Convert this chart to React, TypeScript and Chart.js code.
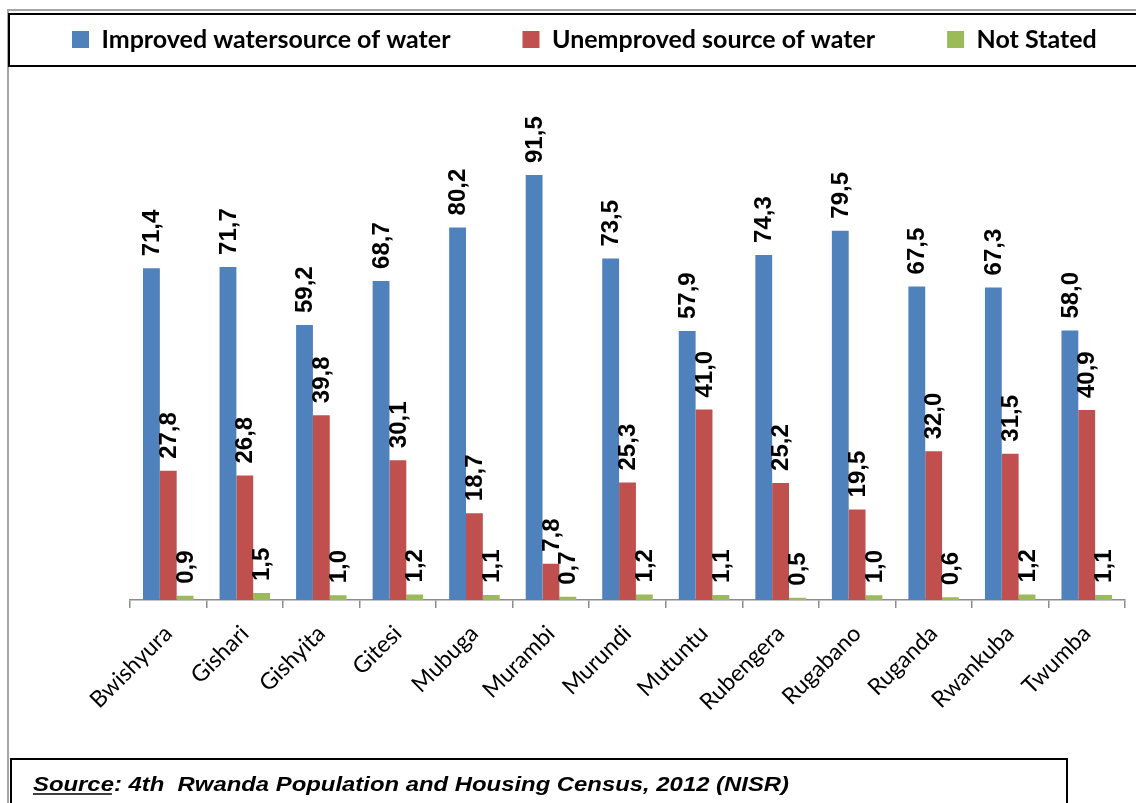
import React, { useEffect, useRef } from "react";
import { Chart, registerables } from "chart.js";

Chart.register(...registerables);

const categories = [
  "Bwishyura", "Gishari", "Gishyita", "Gitesi", "Mubuga", "Murambi", "Murundi",
  "Mutuntu", "Rubengera", "Rugabano", "Ruganda", "Rwankuba", "Twumba",
];
const improved = [71.4, 71.7, 59.2, 68.7, 80.2, 91.5, 73.5, 57.9, 74.3, 79.5, 67.5, 67.3, 58.0];
const unimproved = [27.8, 26.8, 39.8, 30.1, 18.7, 7.8, 25.3, 41.0, 25.2, 19.5, 32.0, 31.5, 40.9];
const notStated = [0.9, 1.5, 1.0, 1.2, 1.1, 0.7, 1.2, 1.1, 0.5, 1.0, 0.6, 1.2, 1.1];
const seriesNames = ["Improved watersource of water", "Unemproved source of water", "Not Stated"];
const seriesColors = ["#4F81BD", "#C0504D", "#9BBB59"];
const sourcePrefix = "Source";
const sourceRest = ": 4th  Rwanda Population and Housing Census, 2012 (NISR)";

const fmt = (v: number) => v.toFixed(1).replace(".", ",");

const LEGEND_PAD = 72;
const LEGEND_FONT = 25;
const LEGEND_BOX = 17;
const LEGEND_ITEM_TOP = 27;
const LEGEND_X0 = 72;
const LAYOUT_TOP = LEGEND_ITEM_TOP - LEGEND_PAD;
const PLOT_TOP = 135.5;

// reserve the legend band height, and keep the legend on a single row
const legendSpacer = {
  id: "legendSpacer",
  afterInit(chart: any) {
    const lg = chart.legend;
    if (!lg) return;
    const orig = lg.fit;
    lg.fit = function () {
      orig.call(this);
      this.height = PLOT_TOP - LAYOUT_TOP;
    };
  },
  beforeDraw(chart: any) {
    const lg = chart.legend;
    if (!lg) return;
    lg.left = LEGEND_X0 - LEGEND_PAD;
    lg.right = 1600;
    lg.width = lg.right - lg.left;
  },
};

const valueLabels = {
  id: "valueLabels",
  afterDatasetsDraw(chart: any) {
    const ctx = chart.ctx;
    ctx.save();
    ctx.font = "bold 24px 'Liberation Sans', Arial, sans-serif";
    ctx.fillStyle = "#000";
    ctx.textAlign = "left";
    ctx.textBaseline = "middle";
    chart.data.datasets.forEach((ds: any, i: number) => {
      const meta = chart.getDatasetMeta(i);
      meta.data.forEach((el: any, j: number) => {
        const txt = fmt(ds.data[j]);
        ctx.save();
        ctx.translate(el.x + 1, el.y - 12);
        ctx.rotate(-Math.PI / 2);
        ctx.fillText(txt, 0, 0);
        ctx.restore();
      });
    });
    ctx.restore();
  },
};

const frame = {
  id: "frame",
  afterDraw(chart: any) {
    const ctx = chart.ctx;
    ctx.save();
    ctx.strokeStyle = "#A6A6A6";
    ctx.lineWidth = 2;
    ctx.beginPath();
    ctx.moveTo(8, 803);
    ctx.lineTo(8, 10);
    ctx.lineTo(1136, 10);
    ctx.stroke();
    ctx.strokeStyle = "#000";
    ctx.lineWidth = 2;
    ctx.beginPath();
    ctx.moveTo(1136, 14);
    ctx.lineTo(9, 14);
    ctx.lineTo(9, 66);
    ctx.lineTo(1136, 66);
    ctx.stroke();
    ctx.strokeRect(11, 759, 1056, 60);
    ctx.fillStyle = "#000";
    ctx.font = "italic bold 20px 'Liberation Sans', Arial, sans-serif";
    ctx.textBaseline = "alphabetic";
    ctx.textAlign = "left";
    const full = sourcePrefix + sourceRest;
    const w = ctx.measureText(full).width;
    const sx = 756 / w;
    const pw = ctx.measureText(sourcePrefix).width;
    ctx.save();
    ctx.translate(33, 791);
    ctx.scale(sx, 1);
    ctx.fillText(full, 0, 0);
    ctx.restore();
    ctx.lineWidth = 1.5;
    ctx.beginPath();
    ctx.moveTo(33, 794);
    ctx.lineTo(33 + pw * sx - 2, 794);
    ctx.stroke();
    ctx.restore();
  },
};

export default function App() {
  const ref = useRef<HTMLCanvasElement>(null);
  useEffect(() => {
    if (!ref.current) return;
    const chart = new Chart(ref.current, {
      type: "bar",
      data: {
        labels: categories,
        datasets: [
          { label: seriesNames[0], data: improved, backgroundColor: seriesColors[0] },
          { label: seriesNames[1], data: unimproved, backgroundColor: seriesColors[1] },
          { label: seriesNames[2], data: notStated, backgroundColor: seriesColors[2] },
        ].map((d) => ({ ...d, borderWidth: 0, categoryPercentage: 0.66, barPercentage: 1.0 })),
      },
      options: {
        animation: false,
        responsive: false,
        events: [],
        layout: { padding: { left: 30, right: 11, top: LAYOUT_TOP, bottom: 0 } },
        plugins: {
          tooltip: { enabled: false },
          legend: {
            position: "top",
            align: "start",
            labels: {
              boxWidth: LEGEND_BOX,
              boxHeight: LEGEND_BOX,
              padding: LEGEND_PAD,
              color: "#000",
              font: { family: "Lato, 'Open Sans', sans-serif", size: LEGEND_FONT, weight: "bold" },
            },
          },
        },
        scales: {
          x: {
            grid: { display: true, offset: true, drawOnChartArea: false, drawTicks: true, tickLength: 8, color: "#8C8C8C", lineWidth: 1.5 },
            border: { display: true, color: "#8C8C8C", width: 1.5 },
            ticks: {
              color: "#000",
              maxRotation: 45,
              minRotation: 45,
              padding: 12,
              autoSkip: false,
              font: { family: "Lato, 'Open Sans', sans-serif", size: 23 },
            },
            afterFit: (s: any) => { s.height = 203; },
          },
          y: {
            display: true,
            min: 0,
            max: 100,
            grid: { display: false },
            border: { display: false },
            ticks: { display: false },
            afterFit: (s: any) => { s.width = 100; },
          },
        },
      },
      plugins: [legendSpacer, valueLabels, frame],
    });
    return () => chart.destroy();
  }, []);
  return (
    <div style={{ position: "absolute", left: 0, top: 0, width: 1136, height: 803, background: "#fff" }}>
      <canvas ref={ref} width={1136} height={803} style={{ display: "block" }} />
    </div>
  );
}
